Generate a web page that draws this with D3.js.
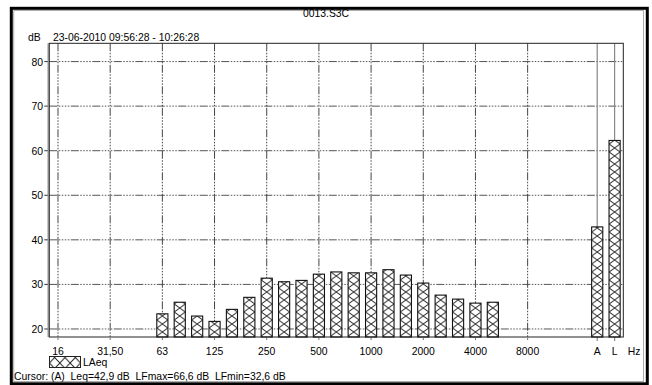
<!DOCTYPE html>
<html>
<head>
<meta charset="utf-8">
<script src="https://cdn.jsdelivr.net/npm/d3@7"></script>
<style>
  html, body { margin: 0; padding: 0; background: #fff; }
  svg { display: block; font-family: "Liberation Sans", Arial, sans-serif; }
  text { white-space: pre; }
</style>
</head>
<body>
<svg id="chart" width="652" height="385"></svg>
<script>
// 1/3-octave bands 16 Hz .. 16 kHz, then the A- and L-weighted totals
const bands = ["16","20","25","31.5","40","50","63","80","100","125","160","200",
  "250","315","400","500","630","800","1000","1250","1600","2000","2500","3150",
  "4000","5000","6300","8000","10000","12500","16000","A","L"];
// LAeq per band in dB (null = no reading)
const laeq = [null,null,null,null,null,null,23.4,26.0,22.9,21.7,24.4,27.1,
  31.4,30.6,30.9,32.3,32.8,32.6,32.6,33.3,32.1,30.3,27.6,26.7,
  25.8,26.0,null,null,null,null,null,42.9,62.3];
// octave bands that carry a label and a grid line
const octaveBands = ["16","31.5","63","125","250","500","1000","2000","4000","8000"];
const octaveLabels = ["16","31,50","63","125","250","500","1000","2000","4000","8000"];
const totalBands = ["A","L"];
const yTicks = [20,30,40,50,60,70,80];

const fileName = "0013.S3C";
const period = "23-06-2010 09:56:28 - 10:26:28";
const legendName = "LAeq";
const cursorText = "Cursor: (A)  Leq=42,9 dB  LFmax=66,6 dB  LFmin=32,6 dB";

const FS = 10.4;
const svg = d3.select("#chart");
const plot = { left: 49.3, right: 623.3, top: 43.3, bottom: 337 };

const x = d3.scaleBand().domain(bands).range([plot.left, plot.right])
  .paddingInner(0.36).paddingOuter(0.18);
const y = d3.scaleLinear().domain([18.2, 84.1]).range([plot.bottom, plot.top]);

const defs = svg.append("defs");
const gridDash = "8,1.5,1.5,1.5,1.5,1.5,1.5,1.5,1.5,1.5";

// outer double frame
svg.append("rect").attr("x", 11.3).attr("y", 8.3).attr("width", 636).attr("height", 375.5)
  .attr("fill", "none").attr("stroke", "#000").attr("stroke-width", 3);
svg.append("rect").attr("x", 13.8).attr("y", 10.6).attr("width", 629.6).attr("height", 371)
  .attr("fill", "none").attr("stroke", "#999").attr("stroke-width", 0.8);

// titles
svg.append("text").attr("x", 326).attr("y", 17).attr("text-anchor", "middle")
  .attr("font-size", FS).text(fileName);
svg.append("text").attr("x", 28).attr("y", 41).attr("font-size", FS).text("dB");
svg.append("text").attr("x", 53).attr("y", 41).attr("font-size", FS).text(period);

// horizontal grid with small tick stubs left of the plot
const gy = svg.append("g");
gy.selectAll("line.h").data(yTicks).join("line").attr("class", "h")
  .attr("x1", plot.left).attr("x2", plot.right)
  .attr("y1", d => y(d)).attr("y2", d => y(d))
  .attr("stroke", "#555").attr("stroke-width", 1).attr("stroke-dasharray", gridDash);
gy.selectAll("line.t").data(yTicks).join("line").attr("class", "t")
  .attr("x1", plot.left - 5).attr("x2", plot.left)
  .attr("y1", d => y(d)).attr("y2", d => y(d))
  .attr("stroke", "#333").attr("stroke-width", 1);
gy.selectAll("text").data(yTicks).join("text")
  .attr("x", 43).attr("y", d => y(d) + 4).attr("text-anchor", "end")
  .attr("font-size", FS).text(d => d);

// vertical grid at octave bands
const cx = b => x(b) + x.bandwidth() / 2;
svg.append("g").selectAll("line").data(octaveBands).join("line")
  .attr("x1", cx).attr("x2", cx).attr("y1", plot.top).attr("y2", plot.bottom + 4)
  .attr("stroke", "#444").attr("stroke-width", 1).attr("stroke-dasharray", gridDash);
// solid lines for the weighted totals
svg.append("g").selectAll("line").data(totalBands).join("line")
  .attr("x1", cx).attr("x2", cx).attr("y1", plot.top).attr("y2", plot.bottom + 4)
  .attr("stroke", "#888").attr("stroke-width", 1.2);

// cross-hatch pattern, one tile per bar so the crosses line up with its edges
function hatch(id, px, w, h) {
  const p = defs.append("pattern").attr("id", id).attr("patternUnits", "userSpaceOnUse")
    .attr("x", px).attr("y", 0).attr("width", w).attr("height", h);
  p.append("rect").attr("width", w).attr("height", h).attr("fill", "#fff");
  p.append("path").attr("d", `M0,0L${w},${h}M${w},0L0,${h}`)
    .attr("stroke", "#222").attr("stroke-width", 1).attr("fill", "none");
}

const data = bands.map((b, i) => ({ band: b, value: laeq[i], i })).filter(d => d.value !== null);
data.forEach(d => hatch("h" + d.i, x(d.band), x.bandwidth(), 8));

svg.append("g").selectAll("rect").data(data).join("rect")
  .attr("x", d => x(d.band)).attr("width", x.bandwidth())
  .attr("y", d => y(d.value)).attr("height", d => plot.bottom - y(d.value))
  .attr("fill", d => `url(#h${d.i})`).attr("stroke", "#111").attr("stroke-width", 1.1);

// plot frame
svg.append("rect").attr("x", plot.left).attr("y", plot.top)
  .attr("width", plot.right - plot.left).attr("height", plot.bottom - plot.top)
  .attr("fill", "none").attr("stroke", "#222").attr("stroke-width", 1);
svg.append("line").attr("x1", plot.left - 1).attr("x2", plot.left - 1)
  .attr("y1", plot.top).attr("y2", plot.bottom).attr("stroke", "#888").attr("stroke-width", 1.5);

// x labels
const xl = octaveBands.map((b, i) => ({ b, t: octaveLabels[i] }))
  .concat(totalBands.map(b => ({ b, t: b })));
svg.append("g").selectAll("text").data(xl).join("text")
  .attr("x", d => cx(d.b)).attr("y", 355).attr("text-anchor", "middle")
  .attr("font-size", FS).text(d => d.t);
svg.append("text").attr("x", 634).attr("y", 355).attr("text-anchor", "middle")
  .attr("font-size", FS).text("Hz");

// legend
hatch("hLegend", 49.5, 10.33, 11);
svg.append("rect").attr("x", 49.5).attr("y", 356.5).attr("width", 31).attr("height", 11)
  .attr("fill", "url(#hLegend)").attr("stroke", "#222");
svg.append("text").attr("x", 83).attr("y", 366).attr("font-size", FS).text(legendName);

svg.append("text").attr("x", 14).attr("y", 380).attr("font-size", FS).text(cursorText);
</script>
</body>
</html>
